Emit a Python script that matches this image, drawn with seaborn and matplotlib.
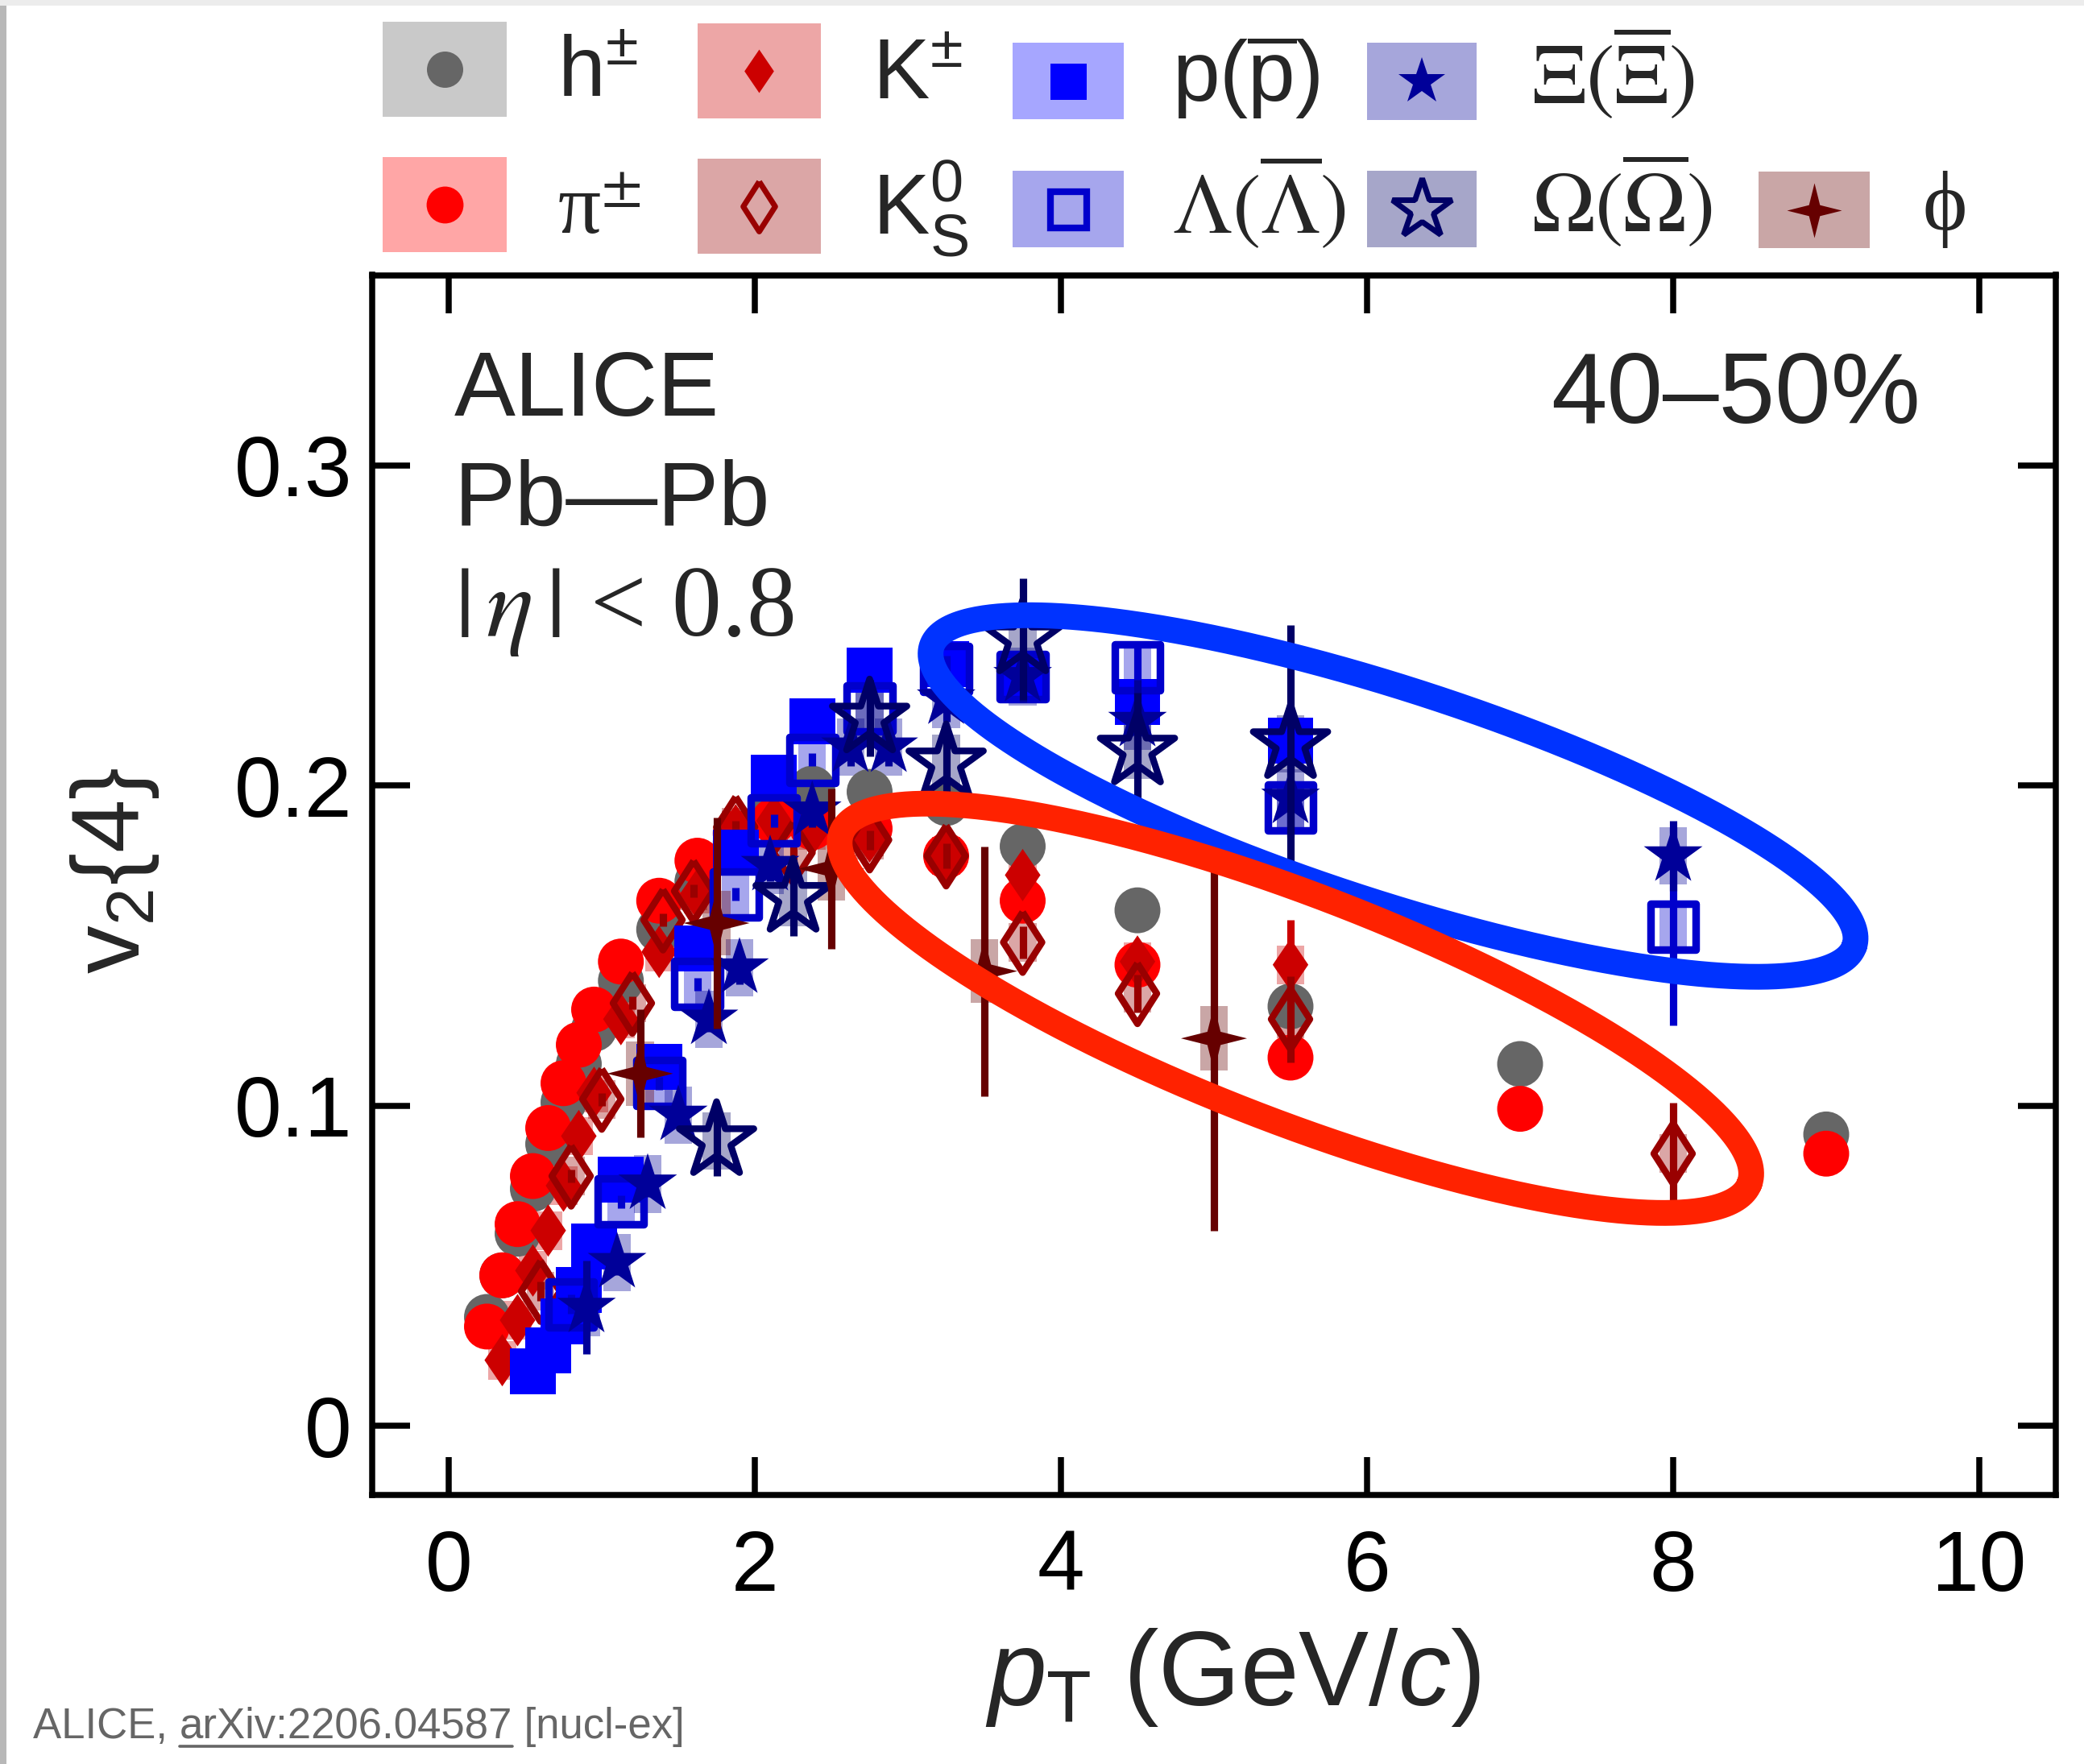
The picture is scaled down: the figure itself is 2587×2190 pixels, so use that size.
import numpy as np
import pandas as pd
import matplotlib
matplotlib.use("Agg")
import matplotlib.pyplot as plt
import seaborn as sns
from matplotlib.lines import Line2D
from matplotlib.patches import Rectangle
from matplotlib import font_manager

# ---------------- data ----------------
pt_h  = [0.25, 0.35, 0.45, 0.55, 0.65, 0.75, 0.85, 0.95, 1.125, 1.375, 1.625, 1.875, 2.125, 2.375, 2.75, 3.25, 3.75, 4.5, 5.5, 7.0, 9.0]
v2_h  = [0.034, 0.047, 0.060, 0.074, 0.088, 0.101, 0.113, 0.124, 0.139, 0.155, 0.170, 0.182, 0.192, 0.199, 0.198, 0.1945, 0.181, 0.161, 0.131, 0.113, 0.091]
err_h = [0.001, 0.001, 0.001, 0.001, 0.001, 0.001, 0.001, 0.001, 0.001, 0.001, 0.001, 0.001, 0.001, 0.001, 0.001, 0.001, 0.001, 0.001, 0.002, 0.002, 0.003]
sys_h = 0.003

pt_pi  = [0.25, 0.35, 0.45, 0.55, 0.65, 0.75, 0.85, 0.95, 1.125, 1.375, 1.625, 1.875, 2.125, 2.375, 2.75, 3.25, 3.75, 4.5, 5.5, 7.0, 9.0]
v2_pi  = [0.031, 0.047, 0.063, 0.078, 0.093, 0.107, 0.119, 0.130, 0.145, 0.164, 0.1765, 0.185, 0.189, 0.187, 0.1865, 0.178, 0.164, 0.144, 0.115, 0.099, 0.085]
err_pi = [0.001, 0.001, 0.001, 0.001, 0.001, 0.001, 0.001, 0.001, 0.001, 0.001, 0.001, 0.001, 0.001, 0.001, 0.001, 0.001, 0.002, 0.002, 0.002, 0.003, 0.004]
sys_pi = 0.003

pt_k  = [0.35, 0.45, 0.55, 0.65, 0.75, 0.85, 0.95, 1.125, 1.375, 1.625, 1.875, 2.125, 2.375, 2.75, 3.25, 3.75, 4.5, 5.5]
v2_k  = [0.0205, 0.033, 0.0485, 0.061, 0.075, 0.0905, 0.104, 0.127, 0.148, 0.166, 0.186, 0.189, 0.186, 0.184, 0.178, 0.172, 0.145, 0.144]
err_k = [0.002, 0.002, 0.002, 0.002, 0.002, 0.002, 0.002, 0.002, 0.002, 0.002, 0.002, 0.002, 0.002, 0.003, 0.003, 0.004, 0.006, 0.014]
sys_k = 0.006

pt_k0  = [0.6, 0.8, 1.0, 1.2, 1.4, 1.6, 1.875, 2.25, 2.75, 3.25, 3.75, 4.5, 5.5, 8.0]
v2_k0  = [0.042, 0.078, 0.102, 0.132, 0.158, 0.167, 0.187, 0.179, 0.183, 0.178, 0.151, 0.135, 0.127, 0.085]
err_k0 = [0.003, 0.002, 0.002, 0.002, 0.002, 0.002, 0.002, 0.002, 0.003, 0.004, 0.005, 0.006, 0.0135, 0.016]
sys_k0 = 0.006

pt_p  = [0.55, 0.65, 0.75, 0.85, 0.95, 1.125, 1.375, 1.625, 1.875, 2.125, 2.375, 2.75, 3.25, 3.75, 4.5, 5.5]
v2_p  = [0.017, 0.0235, 0.0327, 0.0424, 0.056, 0.0769, 0.112, 0.149, 0.179, 0.2025, 0.220, 0.236, 0.238, 0.234, 0.226, 0.214]
err_p = [0.002, 0.002, 0.002, 0.002, 0.002, 0.002, 0.002, 0.002, 0.002, 0.002, 0.002, 0.003, 0.003, 0.004, 0.006, 0.009]
sys_p = 0.007

pt_lam  = [0.8, 1.125, 1.375, 1.625, 1.875, 2.125, 2.375, 2.75, 3.25, 3.75, 4.5, 5.5, 8.0]
v2_lam  = [0.038, 0.070, 0.107, 0.138, 0.166, 0.189, 0.208, 0.224, 0.2365, 0.234, 0.237, 0.193, 0.156]
err_lam = [0.003, 0.002, 0.002, 0.002, 0.002, 0.002, 0.002, 0.003, 0.004, 0.005, 0.006, 0.008, 0.031]
sys_lam = 0.007

pt_xi  = [0.9, 1.1, 1.3, 1.5, 1.7, 1.9, 2.1, 2.375, 2.625, 2.875, 3.25, 3.75, 4.5, 5.5, 8.0]
v2_xi  = [0.037, 0.051, 0.0755, 0.097, 0.127, 0.143, 0.175, 0.192, 0.212, 0.212, 0.227, 0.234, 0.220, 0.196, 0.178]
err_xi = [0.0145, 0.004, 0.004, 0.004, 0.004, 0.005, 0.005, 0.005, 0.006, 0.006, 0.007, 0.008, 0.013, 0.012, 0.011]
sys_xi = 0.009

pt_om  = [1.75, 2.25, 2.75, 3.25, 3.75, 4.5, 5.5]
v2_om  = [0.089, 0.165, 0.221, 0.207, 0.2457, 0.211, 0.213]
err_om = [0.011, 0.012, 0.012, 0.011, 0.019, 0.018, 0.037]
sys_om = 0.009

pt_phi  = [1.25, 1.75, 2.5, 3.5, 5.0]
v2_phi  = [0.110, 0.157, 0.174, 0.142, 0.121]
err_phi = [0.020, 0.033, 0.025, 0.039, 0.060]
sys_phi = 0.010

labels = [r'h$^{\pm}$', r'π$^{\pm}$', r'K$^{\pm}$', r'K$^{0}_{\mathrm{S}}$',
          r'p($\overline{\mathrm{p}}$)', r'$\Lambda(\overline{\Lambda})$',
          r'$\Xi(\overline{\Xi})$', r'$\Omega(\overline{\Omega})$', 'ϕ']

x_ticks = [0, 2, 4, 6, 8, 10]
y_ticks = [0, 0.1, 0.2, 0.3]
y_ticklabels = ['0', '0.1', '0.2', '0.3']

# ---------------- style ----------------
sns.set_style("ticks")
plt.rcParams['font.family'] = ['Liberation Sans', 'DejaVu Sans']
plt.rcParams['mathtext.fontset'] = 'custom'
plt.rcParams['mathtext.rm'] = 'Liberation Sans'
plt.rcParams['mathtext.it'] = 'Liberation Sans:italic'
plt.rcParams['mathtext.bf'] = 'Liberation Sans:bold'

W, H, DPI = 2587, 2190, 200
fig = plt.figure(figsize=(W / DPI, H / DPI), dpi=DPI, facecolor='white')
ax = fig.add_axes([462 / W, 1 - 1856 / H, (2552 - 462) / W, (1856 - 341.5) / H])

diamond = [(0, 1), (0.68, 0), (0, -1), (-0.68, 0), (0, 1)]
diamond_o = [(0, 1), (0.64, 0), (0, -1), (-0.64, 0), (0, 1)]
star4 = [(0, 1), (0.2, 0.2), (1, 0), (0.2, -0.2), (0, -1), (-0.2, -0.2), (-1, 0), (-0.2, 0.2), (0, 1)]

species = [
    dict(pt=pt_h, v2=v2_h, err=err_h, sys=sys_h, c='#666666', m='o', filled=True, ms=20.5, lw=0, lms=16.2, llw=0),
    dict(pt=pt_pi, v2=v2_pi, err=err_pi, sys=sys_pi, c='#ff0000', m='o', filled=True, ms=20.5, lw=0, lms=16.5, llw=0),
    dict(pt=pt_k, v2=v2_k, err=err_k, sys=sys_k, c='#cc0000', m=diamond, filled=True, ms=23.4, lw=0, lms=19.4, llw=0),
    dict(pt=pt_k0, v2=v2_k0, err=err_k0, sys=sys_k0, c='#990000', m=diamond_o, filled=False, ms=27, lw=3.0, lms=22.3, llw=2.5),
    dict(pt=pt_p, v2=v2_p, err=err_p, sys=sys_p, c='#0000ff', m='s', filled=True, ms=20.5, lw=0, lms=16.2, llw=0),
    dict(pt=pt_lam, v2=v2_lam, err=err_lam, sys=sys_lam, c='#0000cc', m='s', filled=False, ms=20.5, lw=3.4, lms=16.2, llw=3.0),
    dict(pt=pt_xi, v2=v2_xi, err=err_xi, sys=sys_xi, c='#000099', m='*', filled=True, ms=27.6, lw=0, lms=21.9, llw=0),
    dict(pt=pt_om, v2=v2_om, err=err_om, sys=sys_om, c='#000066', m='*', filled=False, ms=35, lw=3.0, lms=28, llw=2.5),
    dict(pt=pt_phi, v2=v2_phi, err=err_phi, sys=sys_phi, c='#660000', m=star4, filled=True, ms=29.5, lw=0, lms=24.5, llw=0),
]

BOXW = 0.18
for i, sp in enumerate(species):
    df = pd.DataFrame({'pt': sp['pt'], 'v2': sp['v2'], 'err': sp['err']})
    df['lo'] = df['v2'] - sp['sys']
    ax.bar(df['pt'], 2 * sp['sys'], bottom=df['lo'], width=BOXW, color=sp['c'],
           alpha=0.35, linewidth=0, zorder=1)
    ax.errorbar(df['pt'], df['v2'], yerr=df['err'], fmt='none', ecolor=sp['c'],
                elinewidth=3.3, capsize=0, zorder=3 + i)
    if sp['filled']:
        sns.scatterplot(data=df, x='pt', y='v2', ax=ax, marker=sp['m'], s=sp['ms'] ** 2,
                        color=sp['c'], edgecolor='none', linewidth=0, zorder=3 + i, legend=False)
    else:
        sns.scatterplot(data=df, x='pt', y='v2', ax=ax, marker=sp['m'], s=sp['ms'] ** 2,
                        color=sp['c'], facecolor='none', edgecolor=sp['c'], linewidth=sp['lw'],
                        zorder=3 + i, legend=False)

# highlighting ellipses (annotation geometry in data coordinates)
ellipses = [
    dict(c=(6.17, 0.1967), a=(3.014, -0.0468), b=(-0.215, -0.0316), color='#0033ff'),
    dict(c=(5.532, 0.1304), a=(2.966, -0.0548), b=(-0.266, -0.0329), color='#ff2200'),
]
t = np.linspace(0, 2 * np.pi, 600)
for e in ellipses:
    ex = e['c'][0] + e['a'][0] * np.cos(t) + e['b'][0] * np.sin(t)
    ey = e['c'][1] + e['a'][1] * np.cos(t) + e['b'][1] * np.sin(t)
    ax.plot(ex, ey, color=e['color'], lw=11.5, zorder=20, solid_capstyle='round')

ax.set_xlim(-0.5, 10.5)
ax.set_ylim(-0.0216, 0.3594)
ax.set_xticks(x_ticks)
ax.set_xticklabels([str(v) for v in x_ticks])
ax.set_yticks(y_ticks)
ax.set_yticklabels(y_ticklabels)
ax.set_xlabel('')
ax.set_ylabel('')
for s in ax.spines.values():
    s.set_visible(True)
    s.set_linewidth(2.7)
    s.set_color('black')
ax.tick_params(axis='both', which='major', direction='in', length=17, width=2.7,
               top=True, right=True, labelsize=38, colors='black')
ax.tick_params(axis='y', pad=9)
ax.tick_params(axis='x', pad=15)
ax.minorticks_off()

# in-plot texts
ax.text(0.0488, 0.8848, 'ALICE', transform=ax.transAxes, fontsize=41, ha='left', va='baseline')
ax.text(0.0488, 0.795, 'Pb\u2014Pb', transform=ax.transAxes, fontsize=41, ha='left', va='baseline')
ax.text(0.0488, 0.7045, r'$|\,\eta\,|$ < 0.8', transform=ax.transAxes, fontsize=44.5, ha='left',
        va='baseline', family=['Liberation Serif', 'DejaVu Serif'], math_fontfamily='stix')
ax.text(0.9196, 0.8788, '40\u201350%', transform=ax.transAxes, fontsize=45, ha='right', va='baseline')

# axis titles
fig.text(1530 / W, 1 - 2117 / H, r'$p_{\mathrm{T}}$ (GeV/$c$)', fontsize=47, ha='center', va='baseline')
fig.text(142 / W, 1 - 1081 / H, r'v$_{2}${4}', fontsize=43, ha='center', va='center', rotation=90)

# legend (two rows of colour boxes with markers, drawn in figure pixels)
leg_col_x = [474.5, 865.5, 1256.5, 1696.5, 2183]      # box left edges
leg_col_w = [154, 153, 138, 136, 138]                 # box widths
leg_box_y = [[(27, 145), (195, 313)], [(29, 147), (197, 315)],
             [(53, 148), (212, 307)], [(53, 149), (212, 307)], [(53, 148), (213, 308)]]
leg_txt_x = [692, 1083, 1455, 1901, 2387]
leg_txt_base = [[120, 290], [123, 290], [127, 289], [128, 287], [128, 285]]
leg_slots = [(0, 0), (0, 1), (1, 0), (1, 1), (2, 0), (2, 1), (3, 0), (3, 1), (4, 1)]  # (col,row) per species

for i, (sp, (col, row)) in enumerate(zip(species, leg_slots)):
    y0, y1 = leg_box_y[col][row]
    x0 = leg_col_x[col]
    w = leg_col_w[col]
    fig.add_artist(Rectangle((x0 / W, 1 - y1 / H), w / W, (y1 - y0) / H, transform=fig.transFigure,
                             facecolor=sp['c'], alpha=0.35, edgecolor='none'))
    xc = (x0 + w / 2) / W
    yc = 1 - (y0 + y1) / 2 / H
    if sp['filled']:
        mk = Line2D([xc], [yc], transform=fig.transFigure, linestyle='none', marker=sp['m'],
                    markersize=sp['lms'], markerfacecolor=sp['c'], markeredgewidth=0)
    else:
        mk = Line2D([xc], [yc], transform=fig.transFigure, linestyle='none', marker=sp['m'],
                    markersize=sp['lms'], markerfacecolor='none', markeredgecolor=sp['c'],
                    markeredgewidth=sp['llw'])
    fig.add_artist(mk)
    kw = dict(fontsize=38, ha='left', va='baseline')
    if i in (1, 5, 6, 7):
        kw['math_fontfamily'] = 'stix'
    if i in (1, 8):
        kw['family'] = ['Liberation Serif', 'DejaVu Serif']
    fig.text(leg_txt_x[col] / W, 1 - leg_txt_base[col][row] / H, labels[i], **kw)

# page decorations
fig.patches.append(Rectangle((0, 0), 8 / W, 1, transform=fig.transFigure, facecolor='#b8b8b8',
                             edgecolor='none', zorder=0))
fig.patches.append(Rectangle((0, 1 - 7 / H), 1, 7 / H, transform=fig.transFigure, facecolor='#ececec',
                             edgecolor='none', zorder=0))

# citation line with underlined arXiv id
try:
    font_manager.findfont('Liberation Sans Narrow', fallback_to_default=False)
    cfam, csize = ['Liberation Sans Narrow'], 23
except Exception:
    cfam, csize = ['Liberation Sans', 'DejaVu Sans'], 19
renderer = fig.canvas.get_renderer()
x0 = 41 / W
yb = 1 - 2158 / H
parts = ['ALICE, ', 'arXiv:2206.04587', ' [nucl-ex]']
xc = x0
for k, ptxt in enumerate(parts):
    tt = fig.text(xc, yb, ptxt, fontsize=csize, family=cfam, color='#666666', ha='left', va='baseline')
    bb = tt.get_window_extent(renderer=renderer)
    if k == 1:
        fig.add_artist(Line2D([bb.x0 / W, bb.x1 / W], [yb - 10 / H, yb - 10 / H],
                              transform=fig.transFigure, color='#666666', lw=1.3))
    xc = bb.x1 / W

fig.savefig('out.png', dpi=DPI, facecolor='white')
